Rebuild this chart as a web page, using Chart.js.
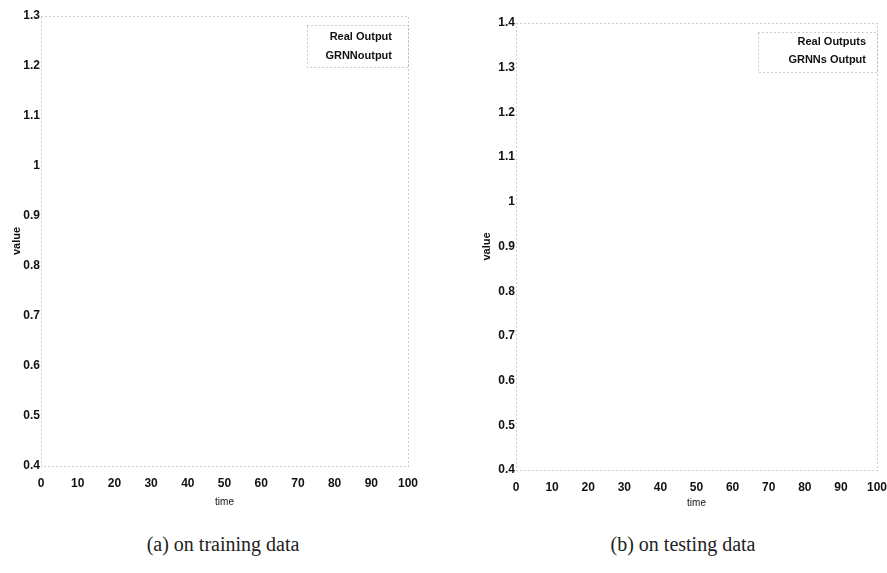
<!DOCTYPE html>
<html>
<head>
<meta charset="utf-8">
<script src="https://cdn.jsdelivr.net/npm/chart.js@4.4.0/dist/chart.umd.min.js"></script>
<style>
body{margin:0;background:#fff;width:887px;height:573px;position:relative;overflow:hidden}
canvas{position:absolute;top:0}
.cap{position:absolute;top:533px;font-family:"Liberation Serif","Times New Roman",serif;font-size:20px;color:#222;white-space:nowrap;transform:translateX(-50%)}
</style>
</head>
<body>
<canvas id="train" width="440" height="520" style="left:0"></canvas>
<canvas id="test" width="447" height="520" style="left:440px"></canvas>
<div class="cap" style="left:223px">(a) on training data</div>
<div class="cap" style="left:683px">(b) on testing data</div>
<script>
// tick labels
const timeTicks = [0, 10, 20, 30, 40, 50, 60, 70, 80, 90, 100];
const trainValueTicks = [0.4, 0.5, 0.6, 0.7, 0.8, 0.9, 1, 1.1, 1.2, 1.3];
const testValueTicks = [0.4, 0.5, 0.6, 0.7, 0.8, 0.9, 1, 1.1, 1.2, 1.3, 1.4];

// legend texts
const trainSeries = ["Real Output", "GRNNoutput"];
const testSeries = ["Real Outputs", "GRNNs Output"];

// the curves did not survive the scan, nothing of them can be read
const realTrain = [];
const grnnTrain = [];
const realTest = [];
const grnnTest = [];

const tickFont = { family: '"Liberation Sans Narrow", "Liberation Sans", Arial, sans-serif', size: 12, weight: 'bold' };

//Frame, legend and axis titles drawn in MATLAB style
const frame = {
  id: 'frame',
  afterDraw(chart) {
    const o = chart.options.plugins.frame;
    const a = chart.chartArea, c = chart.ctx;
    c.save();
    c.strokeStyle = '#9a9a9a';
    c.lineWidth = 1;
    c.setLineDash([1, 3]);
    c.strokeRect(a.left + 0.5, a.top + 0.5, a.right - a.left, a.bottom - a.top);
    // legend box
    const lb = o.legendBox;
    c.strokeRect(lb[0] + 0.5, lb[1] + 0.5, lb[2], lb[3]);
    c.setLineDash([]);
    c.fillStyle = '#111';
    c.font = 'bold 11px "Liberation Sans Narrow", "Liberation Sans", Arial, sans-serif';
    c.textAlign = 'right';
    c.textBaseline = 'middle';
    chart.data.datasets.forEach((d, i) => c.fillText(d.label, o.legendText[0], o.legendText[1] + i * o.legendText[2]));
    // axis titles
    c.textAlign = 'center';
    c.font = '10px "Liberation Sans", Arial, sans-serif';
    c.fillText('time', (a.left + a.right) / 2, a.bottom + o.timeOffset);
    c.font = 'bold 11px "Liberation Sans", Arial, sans-serif';
    c.translate(a.left + o.valueOffset, (a.top + a.bottom) / 2);
    c.rotate(-Math.PI / 2);
    c.fillText('value', 0, 0);
    c.restore();
  }
};

function makePanel(id, yTicks, names, real, grnn, pad, frameOpts) {
  new Chart(document.getElementById(id), {
    type: 'line',
    data: {
      datasets: [
        { label: names[0], data: real, borderColor: '#0000ff', borderWidth: 1, pointRadius: 0 },
        { label: names[1], data: grnn, borderColor: '#ff0000', borderWidth: 1, borderDash: [4, 3], pointRadius: 0 }
      ]
    },
    options: {
      responsive: false,
      animation: false,
      layout: { padding: { top: pad.top, right: pad.right, left: 0, bottom: 0 } },
      plugins: { legend: { display: false }, tooltip: { enabled: false }, frame: frameOpts },
      scales: {
        x: {
          type: 'linear',
          min: timeTicks[0],
          max: timeTicks[timeTicks.length - 1],
          afterBuildTicks: s => { s.ticks = timeTicks.map(v => ({ value: v })); },
          afterFit: s => { s.height = pad.xHeight; s.paddingLeft = 0; s.paddingRight = 0; },
          grid: { display: false, drawTicks: false },
          border: { display: false },
          ticks: { font: tickFont, color: '#111', padding: 10, maxRotation: 0, autoSkip: false }
        },
        y: {
          min: yTicks[0],
          max: yTicks[yTicks.length - 1],
          afterBuildTicks: s => { s.ticks = yTicks.map(v => ({ value: v })); },
          afterFit: s => { s.width = pad.yWidth; s.paddingTop = 0; s.paddingBottom = 0; },
          grid: { display: false, drawTicks: false },
          border: { display: false },
          ticks: { font: tickFont, color: '#111', padding: 1, autoSkip: false, callback: v => String(v) }
        }
      }
    },
    plugins: [frame]
  });
}

makePanel('train', trainValueTicks, trainSeries, realTrain, grnnTrain,
  { top: 16, right: 32, xHeight: 54, yWidth: 41 },
  { legendBox: [307, 25, 101, 42], legendText: [392, 37, 19], timeOffset: 36, valueOffset: -24 });

makePanel('test', testValueTicks, testSeries, realTest, grnnTest,
  { top: 23, right: 10, xHeight: 50, yWidth: 76 },
  { legendBox: [318, 32, 119, 40], legendText: [426, 42, 18], timeOffset: 33, valueOffset: -29 });
</script>
</body>
</html>
